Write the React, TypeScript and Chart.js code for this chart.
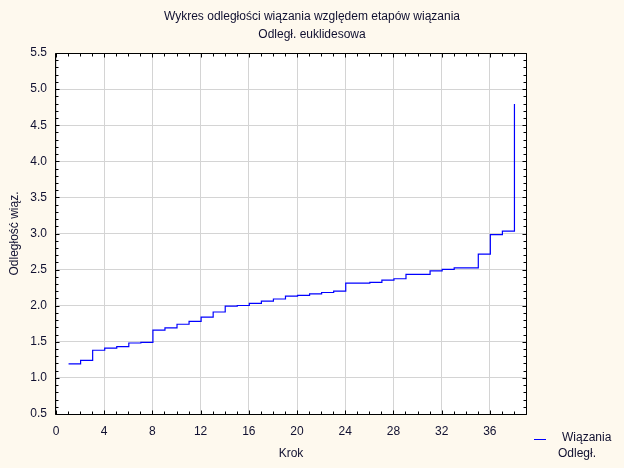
import { useEffect, useRef } from "react";
import { Chart, registerables } from "chart.js";

Chart.register(...registerables);

const steps = [1, 2, 3, 4, 5, 6, 7, 8, 9, 10, 11, 12, 13, 14, 15, 16, 17, 18, 19, 20, 21, 22, 23, 24, 25, 26, 27, 28, 29, 30, 31, 32, 33, 34, 35, 36, 37, 38];
const distances = [1.20, 1.25, 1.39, 1.42, 1.44, 1.49, 1.50, 1.67, 1.70, 1.75, 1.79, 1.85, 1.92, 2.00, 2.01, 2.04, 2.07, 2.10, 2.14, 2.15, 2.17, 2.19, 2.21, 2.32, 2.32, 2.33, 2.36, 2.38, 2.44, 2.44, 2.49, 2.51, 2.53, 2.53, 2.72, 2.99, 3.04, 4.80];

const titleLines = ["Wykres odległości wiązania względem etapów wiązania", "Odległ. euklidesowa"];
const xTitle = "Krok";
const yTitle = "Odległość wiąz.";
const legendLines = ["Wiązania", "Odległ."];

const FONT = "'Liberation Sans', Arial, sans-serif";
const TEXT = "#101030";
const BG = "#fef9ee";

const decor = {
  id: "decor",
  beforeDraw(chart: any) {
    const { ctx, chartArea } = chart;
    ctx.save();
    ctx.fillStyle = BG;
    ctx.fillRect(0, 0, chart.width, chart.height);
    ctx.fillStyle = "#ffffff";
    ctx.fillRect(chartArea.left, chartArea.top, chartArea.right - chartArea.left, chartArea.bottom - chartArea.top);
    ctx.restore();
  },
  beforeDatasetsDraw(chart: any) {
    chart.ctx.save();
    chart.ctx.translate(0.5, 0.5);
  },
  afterDatasetsDraw(chart: any) {
    chart.ctx.restore();
  },
  afterDraw(chart: any) {
    const { ctx, chartArea } = chart;
    const { left, right, top, bottom } = chartArea;
    const xs = chart.scales.x;
    const ys = chart.scales.y;
    const L = left - 0.5, R = right + 0.5, T = top + 0.5, B = bottom + 0.5;
    ctx.save();
    ctx.strokeStyle = "#000000";
    ctx.lineWidth = 1;
    ctx.beginPath();
    ctx.rect(L, T, R - L, B - T);
    ctx.stroke();
    ctx.beginPath();
    for (let v = 0; v <= 39; v += 1) {
      const px = Math.round(xs.getPixelForValue(v)) + 0.5;
      const len = v % 4 === 0 ? 4 : 3;
      ctx.moveTo(px, B); ctx.lineTo(px, B - len);
      ctx.moveTo(px, T); ctx.lineTo(px, T + len);
    }
    for (let i = 0; i <= 50; i++) {
      const v = 0.5 + i * 0.1;
      const py = Math.round(ys.getPixelForValue(v)) + 0.5;
      const len = i % 5 === 0 ? 4 : 3;
      ctx.moveTo(L, py); ctx.lineTo(L + len, py);
      ctx.moveTo(R, py); ctx.lineTo(R - len, py);
    }
    ctx.stroke();

    ctx.fillStyle = TEXT;
    ctx.font = `12px ${FONT}`;
    ctx.textAlign = "center";
    ctx.textBaseline = "middle";
    ctx.fillText(titleLines[0], chart.width / 2, 17);
    ctx.fillText(titleLines[1], chart.width / 2, 34.5);

    ctx.strokeStyle = "#0000ff";
    ctx.beginPath();
    ctx.moveTo(534, 439.5);
    ctx.lineTo(546, 439.5);
    ctx.stroke();
    ctx.textAlign = "left";
    ctx.fillText(legendLines[0], 562, 438);
    ctx.fillText(legendLines[1], 558, 454);
    ctx.restore();
  },
};

export default function App() {
  const ref = useRef<HTMLCanvasElement | null>(null);
  useEffect(() => {
    if (!ref.current) return;
    const font = { family: FONT, size: 12 };
    const chart = new Chart(ref.current, {
      type: "line",
      data: {
        datasets: [
          {
            data: steps.map((s, i) => ({ x: s, y: distances[i] })),
            borderColor: "#0000ff",
            borderWidth: 1.2,
            stepped: true,
            pointRadius: 0,
            fill: false,
          },
        ],
      },
      options: {
        animation: false,
        responsive: false,
        devicePixelRatio: 1,
        layout: { padding: { top: 53, left: 0, right: 0, bottom: 0 } },
        plugins: { legend: { display: false }, title: { display: false }, tooltip: { enabled: false } },
        scales: {
          x: {
            type: "linear",
            position: "bottom",
            min: 0,
            max: 39,
            afterFit: (s: any) => { s.height = 54; },
            ticks: { stepSize: 4, includeBounds: false, padding: 10, color: TEXT, font, maxRotation: 0, autoSkip: false },
            grid: { color: "#d4d4d4", drawTicks: false },
            border: { display: false },
            title: { display: true, text: xTitle, color: TEXT, font, padding: { top: 0, bottom: 7 } },
          },
          y: {
            type: "linear",
            position: "left",
            min: 0.5,
            max: 5.5,
            afterFit: (s: any) => { s.width = 56; },
            ticks: { stepSize: 0.5, padding: 9, color: TEXT, font, callback: (v: any) => Number(v).toFixed(1) },
            grid: { color: "#d4d4d4", drawTicks: false },
            border: { display: false },
            title: { display: true, text: yTitle, color: TEXT, font, padding: { top: 7, bottom: 0 } },
          },
          y2: {
            type: "linear",
            position: "right",
            afterFit: (s: any) => { s.width = 98; },
            ticks: { display: false },
            grid: { display: false, drawTicks: false },
            border: { display: false },
          },
        },
      } as any,
      plugins: [decor],
    });
    return () => chart.destroy();
  }, []);
  return (
    <div style={{ position: "fixed", left: 0, top: 0, width: 624, height: 468, background: BG }}>
      <canvas ref={ref} width={624} height={468} style={{ width: 624, height: 468, display: "block" }} />
    </div>
  );
}
